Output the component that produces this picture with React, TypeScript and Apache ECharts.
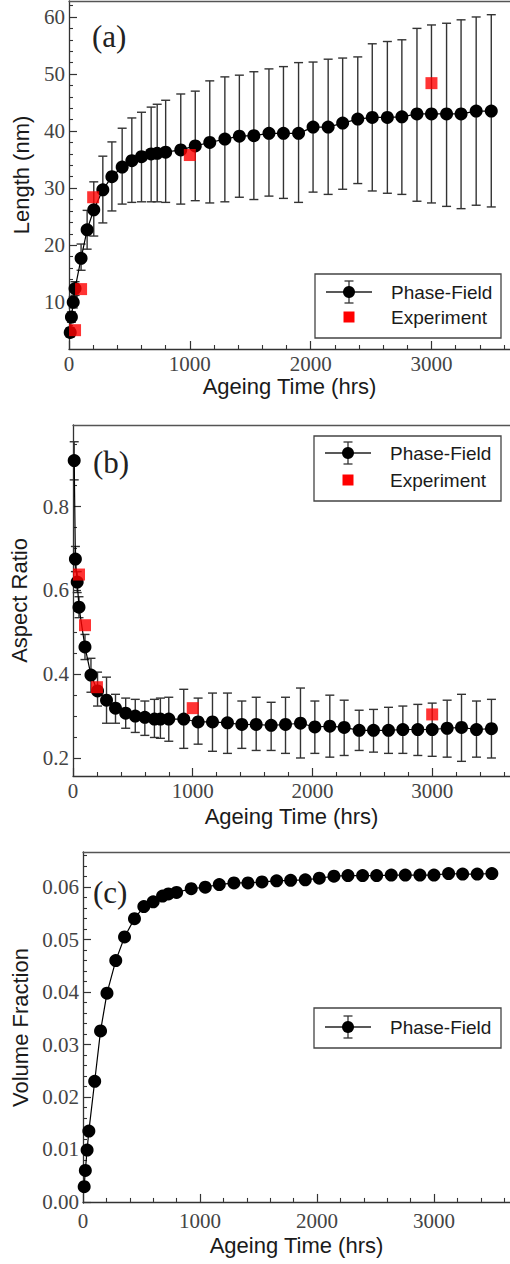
import React, { useEffect, useRef } from "react";
import * as echarts from "echarts";

// ---------- data ----------
const times = [10, 20, 35, 50, 100, 150, 205, 280, 355, 440, 520, 600, 680, 730, 800, 925, 1045, 1165, 1290, 1410, 1530, 1655, 1775, 1900, 2020, 2145, 2265, 2390, 2510, 2635, 2755, 2880, 3000, 3125, 3245, 3370, 3495];

const lengthPF = [4.7, 7.4, 10.0, 12.4, 17.7, 22.7, 26.2, 29.7, 32.0, 33.7, 34.8, 35.5, 36.0, 36.1, 36.3, 36.7, 37.4, 38.0, 38.6, 39.1, 39.2, 39.6, 39.6, 39.6, 40.7, 40.7, 41.4, 42.1, 42.4, 42.4, 42.5, 43.0, 43.0, 43.0, 43.0, 43.5, 43.5];
const lengthHi = [5.5, 8.3, 11.0, 13.6, 20.2, 26.1, 31.1, 35.6, 38.1, 40.5, 42.3, 43.3, 44.2, 44.7, 45.4, 46.5, 47.0, 48.8, 49.5, 49.8, 50.4, 50.9, 51.3, 52.0, 52.1, 52.6, 52.8, 53.0, 55.3, 55.7, 56.0, 58.0, 58.6, 58.9, 59.5, 60.0, 60.4];
const lengthLo = [3.9, 6.5, 9.0, 11.2, 15.6, 19.3, 21.6, 23.9, 26.0, 27.2, 27.5, 27.6, 27.6, 27.6, 27.5, 27.2, 27.8, 27.4, 27.6, 28.4, 28.0, 28.6, 28.2, 27.5, 29.3, 28.9, 29.8, 30.8, 29.5, 29.1, 28.9, 27.7, 27.4, 26.8, 26.4, 27.0, 26.7];

const ratioPF = [0.91, 0.675, 0.62, 0.56, 0.465, 0.398, 0.36, 0.338, 0.319, 0.307, 0.3, 0.297, 0.293, 0.293, 0.293, 0.293, 0.286, 0.286, 0.284, 0.28, 0.28, 0.278, 0.28, 0.283, 0.274, 0.276, 0.273, 0.266, 0.266, 0.266, 0.268, 0.268, 0.268, 0.271, 0.273, 0.268, 0.27];
const ratioHi = [0.955, 0.705, 0.645, 0.585, 0.495, 0.438, 0.405, 0.393, 0.352, 0.343, 0.34, 0.336, 0.34, 0.343, 0.345, 0.364, 0.343, 0.355, 0.355, 0.336, 0.345, 0.333, 0.345, 0.367, 0.336, 0.35, 0.338, 0.314, 0.316, 0.321, 0.324, 0.328, 0.331, 0.338, 0.352, 0.336, 0.34];
const ratioLo = [0.864, 0.645, 0.595, 0.535, 0.435, 0.357, 0.324, 0.283, 0.283, 0.271, 0.261, 0.254, 0.249, 0.247, 0.24, 0.223, 0.233, 0.216, 0.211, 0.223, 0.218, 0.218, 0.211, 0.2, 0.211, 0.202, 0.206, 0.218, 0.214, 0.211, 0.211, 0.206, 0.204, 0.202, 0.192, 0.202, 0.2];

const fractionPF = [0.0029, 0.006, 0.0099, 0.0135, 0.023, 0.0326, 0.0398, 0.046, 0.0505, 0.054, 0.0563, 0.0572, 0.0583, 0.0587, 0.059, 0.0597, 0.06, 0.0605, 0.0608, 0.0608, 0.061, 0.0612, 0.0613, 0.0614, 0.0617, 0.0621, 0.0622, 0.0622, 0.0622, 0.0623, 0.0623, 0.0623, 0.0623, 0.0626, 0.0625, 0.0625, 0.0626];
const fractionErr = [0.0003, 0.0003, 0.0003, 0.0004, 0.0003, 0.0003, 0.0005, 0.0006, 0.0006, 0.0005, 0.0005, 0.0005, 0.0005, 0.0005, 0.0005, 0.0004, 0.0004, 0.0005, 0.0004, 0.0004, 0.0004, 0.0004, 0.0005, 0.0005, 0.0004, 0.0004, 0.0004, 0.0004, 0.0004, 0.0005, 0.0005, 0.0005, 0.0005, 0.0005, 0.0004, 0.0004, 0.0004];

const expTimes = [50, 100, 200, 1000, 3000];
const expLength = [5.1, 12.3, 28.4, 35.8, 48.4];
const expRatio = [0.638, 0.517, 0.369, 0.319, 0.304];

const xMajor = [0, 1000, 2000, 3000];
const xMinor = [200, 400, 600, 800, 1200, 1400, 1600, 1800, 2200, 2400, 2600, 2800, 3200, 3400, 3600];
const lenMajor = [10, 20, 30, 40, 50, 60];
const lenMinor = [4, 6, 8, 12, 14, 16, 18, 22, 24, 26, 28, 32, 34, 36, 38, 42, 44, 46, 48, 52, 54, 56, 58, 62];
const ratioMajor = [0.2, 0.4, 0.6, 0.8];
const ratioMinor = [0.25, 0.3, 0.35, 0.45, 0.5, 0.55, 0.65, 0.7, 0.75, 0.85, 0.9, 0.95];
const fracMajor = [0, 0.01, 0.02, 0.03, 0.04, 0.05, 0.06];
const fracMinor = [0.002, 0.004, 0.006, 0.008, 0.012, 0.014, 0.016, 0.018, 0.022, 0.024, 0.026, 0.028, 0.032, 0.034, 0.036, 0.038, 0.042, 0.044, 0.046, 0.048, 0.052, 0.054, 0.056, 0.058, 0.062, 0.064, 0.066];

const xTitle = "Ageing Time (hrs)";
const yTitles = ["Length (nm)", "Aspect Ratio", "Volume Fraction"];
const panelLetters = ["(a)", "(b)", "(c)"];
const pfName = "Phase-Field";
const expName = "Experiment";

// ---------- styling ----------
const SERIF = "'Liberation Serif', 'DejaVu Serif', serif";
const SANS = "'Liberation Sans', 'DejaVu Sans', sans-serif";
const AX = "#333";
const TICKCOL = "#444";

export default function App() {
  const ref = useRef<HTMLDivElement>(null);
  useEffect(() => {
    document.body.style.margin = "0";
    const chart = echarts.init(ref.current!, null, { renderer: "svg" });

    const grids = [
      { left: 69, right: 0, top: 1, height: 348 },
      { left: 72, right: 0, top: 425, height: 351 },
      { left: 83, right: 0, top: 852, height: 351 },
    ];
    const yRanges = [
      { min: 1.8, max: 62.8, major: lenMajor, minor: lenMinor, fmt: (v: number) => String(v) },
      { min: 0.157, max: 0.995, major: ratioMajor, minor: ratioMinor, fmt: (v: number) => v.toFixed(1) },
      { min: -0.0002, max: 0.0667, major: fracMajor, minor: fracMinor, fmt: (v: number) => v.toFixed(2) },
    ];
    const xNameGap = [26, 29, 31];
    const xLabelMargin = [4, 4, 7];
    const yNameGap = [37, 43, 51];

    const xAxes: any[] = [];
    const yAxes: any[] = [];
    grids.forEach((g, i) => {
      xAxes.push({
        gridIndex: i, type: "value", min: 0, max: 3650, position: "bottom",
        axisLine: { show: true, lineStyle: { color: AX, width: 1.3 } },
        axisTick: { show: true, inside: true, length: 8, customValues: xMajor, lineStyle: { color: AX, width: 1.2 } },
        axisLabel: { show: true, customValues: xMajor, formatter: (v: number) => String(v), fontFamily: SERIF, fontSize: 21, color: TICKCOL, margin: xLabelMargin[i] },
        splitLine: { show: false },
        name: xTitle, nameLocation: "middle", nameGap: xNameGap[i],
        nameTextStyle: { fontFamily: SANS, fontSize: 22, color: "#1a1a1a" },
      });
      xAxes.push({
        gridIndex: i, type: "value", min: 0, max: 3650, position: "bottom",
        axisLine: { show: false },
        axisTick: { show: true, inside: true, length: 4, customValues: xMinor, lineStyle: { color: AX, width: 1.1 } },
        axisLabel: { show: false },
        splitLine: { show: false },
      });
      xAxes.push({
        gridIndex: i, type: "value", min: 0, max: 3650, position: "top",
        axisLine: { show: true, lineStyle: { color: "#555", width: 1.3 } },
        axisTick: { show: false }, axisLabel: { show: false }, splitLine: { show: false },
      });
      const r = yRanges[i];
      yAxes.push({
        gridIndex: i, type: "value", min: r.min, max: r.max, position: "left",
        axisLine: { show: true, lineStyle: { color: AX, width: 1.3 } },
        axisTick: { show: true, inside: true, length: 8, customValues: r.major, lineStyle: { color: AX, width: 1.2 } },
        axisLabel: { show: true, customValues: r.major, formatter: r.fmt, fontFamily: SERIF, fontSize: 21, color: TICKCOL, margin: 4 },
        splitLine: { show: false },
        name: yTitles[i], nameLocation: "middle", nameGap: yNameGap[i], nameRotate: 90,
        nameTextStyle: { fontFamily: SANS, fontSize: 22, color: "#1a1a1a" },
      });
      yAxes.push({
        gridIndex: i, type: "value", min: r.min, max: r.max, position: "left",
        axisLine: { show: false },
        axisTick: { show: true, inside: true, length: 4, customValues: r.minor, lineStyle: { color: AX, width: 1.1 } },
        axisLabel: { show: false }, splitLine: { show: false },
      });
    });

    const errRender = (params: any, api: any) => {
      const t = api.value(0), lo = api.value(1), hi = api.value(2);
      const a = api.coord([t, lo]);
      const b = api.coord([t, hi]);
      const w = 4.5;
      const style = { stroke: "#333", lineWidth: 1.4 };
      return {
        type: "group",
        children: [
          { type: "line", shape: { x1: a[0], y1: a[1], x2: b[0], y2: b[1] }, style },
          { type: "line", shape: { x1: a[0] - w, y1: a[1], x2: a[0] + w, y2: a[1] }, style },
          { type: "line", shape: { x1: b[0] - w, y1: b[1], x2: b[0] + w, y2: b[1] }, style },
        ],
      };
    };

    const pfSets = [
      { v: lengthPF, lo: lengthLo, hi: lengthHi },
      { v: ratioPF, lo: ratioLo, hi: ratioHi },
      { v: fractionPF, lo: fractionPF.map((v, k) => v - fractionErr[k]), hi: fractionPF.map((v, k) => v + fractionErr[k]) },
    ];
    const expSets = [expLength, expRatio, null];

    const series: any[] = [];
    pfSets.forEach((s, i) => {
      series.push({
        type: "custom", xAxisIndex: 3 * i, yAxisIndex: 2 * i, renderItem: errRender,
        encode: { x: 0, y: [1, 2] }, z: 2, silent: true,
        data: times.map((t, k) => [t, s.lo[k], s.hi[k]]),
      });
      series.push({
        type: "line", name: pfName, xAxisIndex: 3 * i, yAxisIndex: 2 * i,
        data: times.map((t, k) => [t, s.v[k]]),
        symbol: "circle", symbolSize: 13, z: 3,
        itemStyle: { color: "#000" }, lineStyle: { color: "#000", width: 1.2 },
      });
      const e = expSets[i];
      if (e) {
        series.push({
          type: "scatter", name: expName, xAxisIndex: 3 * i, yAxisIndex: 2 * i,
          data: expTimes.map((t, k) => [t, e[k]]),
          symbol: "rect", symbolSize: 12, z: 4, itemStyle: { color: "#ff0000" },
        });
      }
    });

    const legendEls = (x: number, y: number, w: number, h: number, rows: number[], withExp: boolean) => {
      const els: any[] = [
        { type: "rect", shape: { x, y, width: w, height: h }, style: { fill: "#fff", stroke: "#444", lineWidth: 1.3 }, z: 10 },
      ];
      const cx = x + 34;
      const r0 = rows[0];
      els.push({ type: "line", shape: { x1: x + 11, y1: r0, x2: x + 57, y2: r0 }, style: { stroke: "#222", lineWidth: 1.3 }, z: 11 });
      els.push({ type: "line", shape: { x1: cx, y1: r0 - 11, x2: cx, y2: r0 + 11 }, style: { stroke: "#333", lineWidth: 1.3 }, z: 11 });
      els.push({ type: "line", shape: { x1: cx - 4.5, y1: r0 - 11, x2: cx + 4.5, y2: r0 - 11 }, style: { stroke: "#333", lineWidth: 1.3 }, z: 11 });
      els.push({ type: "line", shape: { x1: cx - 4.5, y1: r0 + 11, x2: cx + 4.5, y2: r0 + 11 }, style: { stroke: "#333", lineWidth: 1.3 }, z: 11 });
      els.push({ type: "circle", shape: { cx, cy: r0, r: 6 }, style: { fill: "#000" }, z: 12 });
      els.push({ type: "text", x: x + 76, y: r0, style: { text: pfName, font: `19px ${SANS}`, fill: "#1a1a1a", verticalAlign: "middle", align: "left" }, z: 12 });
      if (withExp) {
        const r1 = rows[1];
        els.push({ type: "rect", shape: { x: cx - 5.5, y: r1 - 5.5, width: 11, height: 11 }, style: { fill: "#ff0000" }, z: 12 });
        els.push({ type: "text", x: x + 76, y: r1, style: { text: expName, font: `19px ${SANS}`, fill: "#1a1a1a", verticalAlign: "middle", align: "left" }, z: 12 });
      }
      return els;
    };

    const graphic: any[] = [
      ...legendEls(315, 274, 186, 64, [292, 317], true),
      ...legendEls(314, 436, 187, 65, [453, 480], true),
      ...legendEls(314, 1008, 187, 40, [1027], false),
      { type: "text", x: 92, y: 36, style: { text: panelLetters[0], font: `31px ${SERIF}`, fill: "#222", verticalAlign: "middle" }, z: 12 },
      { type: "text", x: 93, y: 462, style: { text: panelLetters[1], font: `31px ${SERIF}`, fill: "#222", verticalAlign: "middle" }, z: 12 },
      { type: "text", x: 93, y: 892, style: { text: panelLetters[2], font: `31px ${SERIF}`, fill: "#222", verticalAlign: "middle" }, z: 12 },
    ];

    chart.setOption({
      animation: false,
      backgroundColor: "#fff",
      grid: grids,
      xAxis: xAxes,
      yAxis: yAxes,
      series,
      graphic,
    });
    return () => chart.dispose();
  }, []);
  return <div ref={ref} style={{ width: 510, height: 1264 }} />;
}
